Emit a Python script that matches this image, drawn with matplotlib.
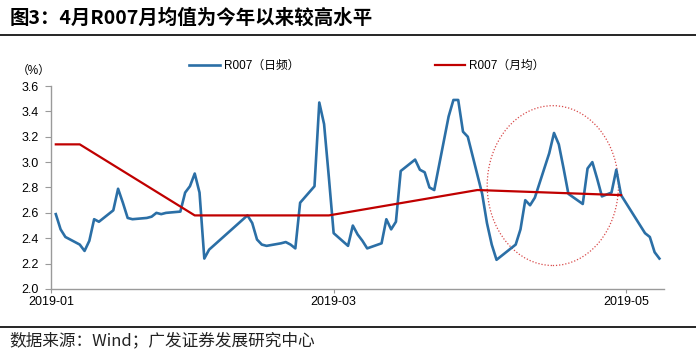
import matplotlib
matplotlib.use("Agg")
import matplotlib.pyplot as plt
import matplotlib.dates as mdates
from matplotlib.patches import Ellipse
import pandas as pd

plt.rcParams["font.family"] = ["Liberation Sans", "Noto Sans CJK SC"]

# R007 daily (%)
daily_dates = [
    "2019-01-02", "2019-01-03", "2019-01-04", "2019-01-07", "2019-01-08", "2019-01-09",
    "2019-01-10", "2019-01-11", "2019-01-14", "2019-01-15", "2019-01-16", "2019-01-17",
    "2019-01-18", "2019-01-21", "2019-01-22", "2019-01-23", "2019-01-24", "2019-01-25",
    "2019-01-28", "2019-01-29", "2019-01-30", "2019-01-31",
    "2019-02-01", "2019-02-02", "2019-02-03", "2019-02-11", "2019-02-12", "2019-02-13",
    "2019-02-14", "2019-02-15", "2019-02-18", "2019-02-19", "2019-02-20", "2019-02-21",
    "2019-02-22", "2019-02-25", "2019-02-26", "2019-02-27", "2019-02-28",
    "2019-03-01", "2019-03-04", "2019-03-05", "2019-03-06", "2019-03-07", "2019-03-08",
    "2019-03-11", "2019-03-12", "2019-03-13", "2019-03-14", "2019-03-15", "2019-03-18",
    "2019-03-19", "2019-03-20", "2019-03-21", "2019-03-22", "2019-03-25", "2019-03-26",
    "2019-03-27", "2019-03-28", "2019-03-29",
    "2019-04-01", "2019-04-02", "2019-04-03", "2019-04-04", "2019-04-08", "2019-04-09",
    "2019-04-10", "2019-04-11", "2019-04-12", "2019-04-15", "2019-04-16", "2019-04-17",
    "2019-04-18", "2019-04-19", "2019-04-22", "2019-04-23", "2019-04-24", "2019-04-25",
    "2019-04-26", "2019-04-28", "2019-04-29", "2019-04-30",
    "2019-05-05", "2019-05-06", "2019-05-07", "2019-05-08",
]
daily_values = [
    2.59, 2.47, 2.41, 2.35, 2.30, 2.38, 2.55, 2.53, 2.62, 2.79, 2.68, 2.56,
    2.55, 2.56, 2.57, 2.60, 2.59, 2.60, 2.61, 2.76, 2.81, 2.91,
    2.76, 2.24, 2.31, 2.58, 2.52, 2.39, 2.35, 2.34, 2.36, 2.37, 2.35, 2.32,
    2.68, 2.81, 3.47, 3.30, 2.88,
    2.44, 2.34, 2.50, 2.43, 2.38, 2.32, 2.36, 2.55, 2.47, 2.53, 2.93, 3.02,
    2.94, 2.92, 2.80, 2.78, 3.36, 3.49, 3.49, 3.24, 3.20,
    2.75, 2.52, 2.35, 2.23, 2.35, 2.47, 2.70, 2.66, 2.72, 3.07, 3.23, 3.14,
    2.95, 2.75, 2.67, 2.95, 3.00, 2.87, 2.73, 2.76, 2.94, 2.74,
    2.44, 2.41, 2.29, 2.24,
]

# R007 monthly average (%)
monthly_dates = ["2019-01-02", "2019-01-07", "2019-01-31", "2019-02-28", "2019-03-31", "2019-04-30"]
monthly_values = [3.14, 3.14, 2.58, 2.58, 2.78, 2.74]

tick_dates = ["2019-01-01", "2019-03-01", "2019-05-01"]

daily_x = pd.to_datetime(daily_dates)
monthly_x = pd.to_datetime(monthly_dates)

fig = plt.figure(figsize=(6.96, 3.62), dpi=100)
ax = fig.add_axes([0.0733, 0.2017, 0.881, 0.5607])

ax.plot(daily_x, daily_values, color="#2B6FA6", lw=1.9, label="R007（日频）")
ax.plot(monthly_x, monthly_values, color="#C00000", lw=1.6, label="R007（月均）")

# dotted circle highlighting April
ell = Ellipse((mdates.date2num(pd.Timestamp("2019-04-15 18:00")), 2.815),
              width=27.4, height=1.26, fill=False, ls=(0, (1, 1.5)),
              lw=0.9, color="#D84A4A")
ax.add_patch(ell)

ax.set_ylim(2.0, 3.6)
ax.set_yticks([2.0, 2.2, 2.4, 2.6, 2.8, 3.0, 3.2, 3.4, 3.6])
ax.yaxis.set_major_formatter(matplotlib.ticker.FormatStrFormatter("%.1f"))
ax.set_xlim(pd.Timestamp("2019-01-01"), pd.Timestamp("2019-05-09"))
ax.set_xticks(pd.to_datetime(tick_dates))
ax.xaxis.set_major_formatter(mdates.DateFormatter("%Y-%m"))

for s in ["top", "right"]:
    ax.spines[s].set_visible(False)
for s in ["left", "bottom"]:
    ax.spines[s].set_color("#9A9A9A")
    ax.spines[s].set_linewidth(1.0)
ax.tick_params(axis="y", length=4, color="#9A9A9A", labelsize=9, pad=5)
ax.tick_params(axis="x", length=3, color="#9A9A9A", labelsize=9, pad=2)

ax.legend(loc="center", bbox_to_anchor=(0.527, 0.818), bbox_transform=fig.transFigure,
          ncol=2, frameon=False, fontsize=8.5, handlelength=2.6, columnspacing=11.5,
          handletextpad=0.3)

fig.text(0.048, 0.805, "（%）", fontsize=8.5, ha="center", va="center")

fig.text(0.014, 0.95, "图3：4月R007月均值为今年以来较高水平", fontsize=14,
         fontweight="bold", ha="left", va="center",
         family=["Noto Sans CJK SC", "DejaVu Sans"])
fig.add_artist(plt.Line2D([0, 1], [0.902, 0.902], color="black", lw=1.2))
fig.add_artist(plt.Line2D([0, 1], [0.097, 0.097], color="black", lw=1.2))
fig.text(0.014, 0.058, "数据来源：Wind；广发证券发展研究中心", fontsize=12,
         ha="left", va="center", color="#222222",
         family=["Noto Sans CJK SC", "DejaVu Sans"])

fig.savefig("out.png", dpi=100)
